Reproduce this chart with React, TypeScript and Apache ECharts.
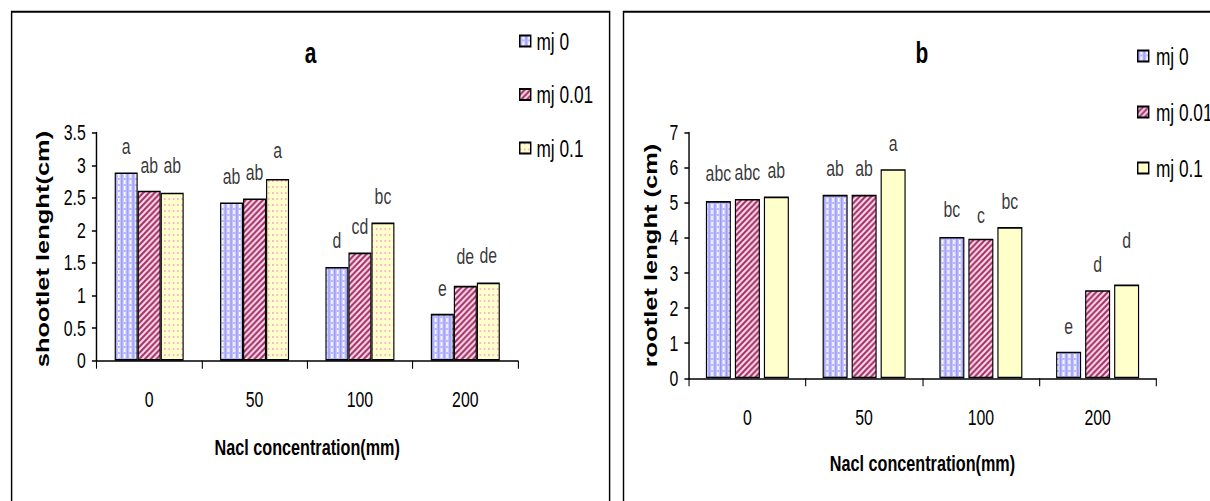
import React, { useEffect, useRef } from "react";
import * as echarts from "echarts";

// ---------- data ----------
const categories = ["0", "50", "100", "200"];
const seriesNames = ["mj 0", "mj 0.01", "mj 0.1"];

const shootMj0 = [2.89, 2.43, 1.44, 0.72];
const shootMj001 = [2.61, 2.49, 1.66, 1.15];
const shootMj01 = [2.58, 2.79, 2.12, 1.2];

const rootMj0 = [5.05, 5.23, 4.03, 0.76];
const rootMj001 = [5.11, 5.23, 3.98, 2.51];
const rootMj01 = [5.18, 5.96, 4.31, 2.67];

// significance letters and the height (in axis units) where each is written
const shootLetMj0 = ["a", "ab", "d", "e"];
const shootLetMj001 = ["ab", "ab", "cd", "de"];
const shootLetMj01 = ["ab", "a", "bc", "de"];
const shootLetYMj0 = [3.285, 2.82, 1.85, 1.11];
const shootLetYMj001 = [2.99, 2.886, 2.06, 1.6];
const shootLetYMj01 = [2.99, 3.22, 2.52, 1.62];

const rootLetMj0 = ["abc", "ab", "bc", "e"];
const rootLetMj001 = ["abc", "ab", "c", "d"];
const rootLetMj01 = ["ab", "a", "bc", "d"];
const rootLetYMj0 = [5.84, 5.98, 4.8, 1.47];
const rootLetYMj001 = [5.86, 5.98, 4.65, 3.23];
const rootLetYMj01 = [5.92, 6.7, 5.03, 3.94];

const shootTicks = { min: 0, max: 3.5, interval: 0.5 };
const rootTicks = { min: 0, max: 7, interval: 1 };

// ---------- layout ----------
const S = 0.72; // horizontal squeeze of the whole picture
const INNER_W = Math.round(1210 / S);
const H = 501;
const px = (x: number) => x / S;
const FONT = '"Liberation Sans", Arial, Helvetica, sans-serif';

function makeTile(w: number, h: number, draw: (c: CanvasRenderingContext2D) => void) {
  const c = document.createElement("canvas");
  c.width = w;
  c.height = h;
  const ctx = c.getContext("2d")!;
  draw(ctx);
  return c;
}

function buildOption() {
  const blueTile = makeTile(8, 6, (c) => {
    c.fillStyle = "#c8c8ff";
    c.fillRect(0, 0, 8, 6);
    c.fillStyle = "#9898f4";
    c.fillRect(0, 0, 2, 6);
    c.fillStyle = "#ffffff";
    c.fillRect(4, 0, 2, 4);
    c.fillStyle = "#b0b0ff";
    c.fillRect(4, 4, 2, 2);
  });
  const redTile = makeTile(8, 6, (c) => {
    c.fillStyle = "#f6dbe8";
    c.fillRect(0, 0, 8, 6);
    c.strokeStyle = "#a8306a";
    c.lineWidth = 2.4;
    c.beginPath();
    c.moveTo(0, 6);
    c.lineTo(8, 0);
    c.moveTo(-2, 1.5);
    c.lineTo(2, -1.5);
    c.moveTo(6, 7.5);
    c.lineTo(10, 4.5);
    c.stroke();
  });
  const dotTile = makeTile(6, 6, (c) => {
    c.fillStyle = "#ffffcc";
    c.fillRect(0, 0, 6, 6);
    c.fillStyle = "#ffa8d0";
    c.fillRect(0, 0, 2, 2);
  });

  const blue = { image: blueTile as any, repeat: "repeat" };
  const red = { image: redTile as any, repeat: "repeat" };
  const dots = { image: dotTile as any, repeat: "repeat" };
  const plainYellow = "#ffffcc";

  const leftGrid = { left: px(96.5), top: 132.7, width: px(518) - px(96.5), height: 228 };
  const rightGrid = { left: px(689), top: 132.7, width: px(1156) - px(689), height: 245.6 };

  const axisLineStyle = { color: "#000", width: 1.5 };

  const xAxis = (gridIndex: number, gap: number) => ({
    type: "category",
    gridIndex,
    data: categories,
    name: "Nacl concentration(mm)",
    nameLocation: "middle",
    nameGap: gap,
    nameTextStyle: { fontFamily: FONT, fontSize: 22.5, fontWeight: "bold", color: "#000" },
    axisLine: { show: true, lineStyle: axisLineStyle },
    axisTick: { show: true, length: 8, alignWithLabel: false, interval: 0, lineStyle: axisLineStyle },
    axisLabel: { fontFamily: FONT, fontSize: 22, color: "#000", margin: 28, interval: 0 },
    splitLine: { show: false },
  });

  const yAxis = (gridIndex: number, t: { min: number; max: number; interval: number }) => ({
    type: "value",
    gridIndex,
    min: t.min,
    max: t.max,
    interval: t.interval,
    axisLine: { show: true, lineStyle: { color: "#000", width: 2 } },
    axisTick: { show: true, length: 6.4, lineStyle: { color: "#000", width: 1.5 } },
    axisLabel: { fontFamily: FONT, fontSize: 22, color: "#000", margin: 15 },
    splitLine: { show: false },
  });

  const bar = (name: string, data: number[], color: any, idx: number, barWidth: number, barGap: string) => ({
    type: "bar",
    name,
    data,
    xAxisIndex: idx,
    yAxisIndex: idx,
    barWidth,
    barGap,
    itemStyle: { color, borderColor: "#000", borderWidth: 1.6 },
    emphasis: { disabled: true },
  });

  const letters = (vals: number[], lets: string[], dx: number, idx: number) => ({
    type: "scatter",
    name: "letters",
    data: vals,
    xAxisIndex: idx,
    yAxisIndex: idx,
    symbolSize: 1,
    silent: true,
    itemStyle: { color: "rgba(0,0,0,0)" },
    label: {
      show: true,
      position: "inside",
      offset: [dx, 0],
      formatter: (p: any) => lets[p.dataIndex],
      fontFamily: FONT,
      fontSize: 22,
      color: "#000",
    },
    z: 5,
  });

  const lw = px(23);
  const rw = px(25);
  const rg = px(4);
  const rdx = rw + rg;

  const legendBase = {
    orient: "vertical",
    padding: 0,
    itemWidth: px(11),
    itemHeight: 11,
    icon: "rect",
    selectedMode: false,
  };

  return {
    animation: false,
    backgroundColor: "#fff",
    grid: [leftGrid, rightGrid],
    xAxis: [xAxis(0, 75), xAxis(1, 73)],
    yAxis: [yAxis(0, shootTicks), yAxis(1, rootTicks)],
    legend: [
      {
        ...legendBase,
        left: px(519),
        top: 29,
        itemGap: 29.5,
        textStyle: { fontFamily: FONT, fontSize: 24, color: "#000", lineHeight: 22, padding: [0, 0, 0, 3] },
        data: seriesNames,
      },
      {
        ...legendBase,
        left: px(1137),
        top: 44,
        itemGap: 32,
        textStyle: { fontFamily: FONT, fontSize: 24, color: "#000", lineHeight: 22, padding: [0, 0, 0, 5] },
        data: [
          { name: seriesNames[0], itemStyle: { color: blue } },
          { name: seriesNames[1], itemStyle: { color: red } },
          { name: seriesNames[2], itemStyle: { color: plainYellow } },
        ],
      },
    ],
    graphic: [
      {
        type: "rect",
        shape: { x: px(11.6), y: 11.7, width: px(609.6) - px(11.6), height: 520 },
        style: { fill: "none", stroke: "#000", lineWidth: 2 },
        z: -1,
      },
      {
        type: "rect",
        shape: { x: px(623.5), y: 11.7, width: 900, height: 520 },
        style: { fill: "none", stroke: "#000", lineWidth: 2 },
        z: -1,
      },
      {
        type: "text",
        x: px(310.6),
        y: 53,
        style: { text: "a", fill: "#000", font: `bold 29px ${FONT}`, textAlign: "center", textVerticalAlign: "middle" },
      },
      {
        type: "text",
        x: px(922),
        y: 53,
        style: { text: "b", fill: "#000", font: `bold 29px ${FONT}`, textAlign: "center", textVerticalAlign: "middle" },
      },
      {
        type: "text",
        x: px(43),
        y: 249,
        rotation: Math.PI / 2,
        style: {
          text: "shootlet lenght(cm)",
          fill: "#000",
          font: `bold 25.5px ${FONT}`,
          textAlign: "center",
          textVerticalAlign: "middle",
        },
      },
      {
        type: "text",
        x: px(651),
        y: 255.5,
        rotation: Math.PI / 2,
        style: {
          text: "rootlet lenght (cm)",
          fill: "#000",
          font: `bold 25.5px ${FONT}`,
          textAlign: "center",
          textVerticalAlign: "middle",
        },
      },
    ],
    series: [
      bar(seriesNames[0], shootMj0, blue, 0, lw, "0%"),
      bar(seriesNames[1], shootMj001, red, 0, lw, "0%"),
      bar(seriesNames[2], shootMj01, dots, 0, lw, "0%"),
      bar(seriesNames[0], rootMj0, blue, 1, rw, "16%"),
      bar(seriesNames[1], rootMj001, red, 1, rw, "16%"),
      bar(seriesNames[2], rootMj01, plainYellow, 1, rw, "16%"),
      letters(shootLetYMj0, shootLetMj0, -lw, 0),
      letters(shootLetYMj001, shootLetMj001, 0, 0),
      letters(shootLetYMj01, shootLetMj01, lw, 0),
      letters(rootLetYMj0, rootLetMj0, -rdx, 1),
      letters(rootLetYMj001, rootLetMj001, 0, 1),
      letters(rootLetYMj01, rootLetMj01, rdx, 1),
    ],
  };
}

export default function App() {
  const ref = useRef<HTMLDivElement>(null);
  useEffect(() => {
    if (!ref.current) return;
    const chart = echarts.init(ref.current, null, { renderer: "svg" });
    chart.setOption(buildOption() as any);
    return () => chart.dispose();
  }, []);
  return (
    <div
      style={{
        position: "fixed",
        left: 0,
        top: 0,
        width: 1210,
        height: H,
        overflow: "hidden",
        background: "#fff",
      }}
    >
      <div
        ref={ref}
        style={{ width: INNER_W, height: H, transform: `scaleX(${S})`, transformOrigin: "0 0" }}
      />
    </div>
  );
}
